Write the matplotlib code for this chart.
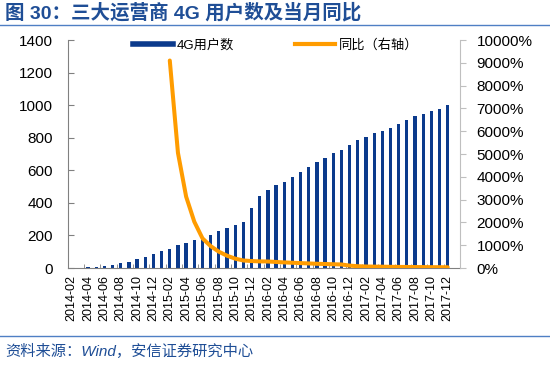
import numpy as np
import pandas as pd
import matplotlib
matplotlib.use("Agg")
import matplotlib.pyplot as plt
from matplotlib.lines import Line2D
from matplotlib.ticker import FuncFormatter, MultipleLocator

plt.rcParams["font.family"] = ["Liberation Sans", "Noto Sans CJK SC", "DejaVu Sans"]

# data
months = list(pd.period_range("2014-02", "2017-12", freq="M").strftime("%Y-%m"))
users = [2, 3, 5, 8, 12, 16, 28, 38, 53, 70, 88, 105,
         119, 139, 154, 170, 186, 205, 227, 248, 264, 285, 371, 444,
         482, 512, 530, 559, 590, 621, 652, 676, 704, 725, 757, 786,
         802, 827, 839, 860, 882, 907, 931, 948, 964, 979, 1003]
yoy_start = "2015-02"
yoy = [9100, 5050, 3130, 2030, 1300, 960, 715, 540, 410, 330,
       305, 290, 285, 265, 245, 230, 215, 200, 185, 175,
       165, 155, 105, 78, 66, 60, 57, 52, 48, 45,
       42, 40, 36, 35, 33]

title = "图 30：三大运营商 4G 用户数及当月同比"
source = "资料来源：Wind，安信证券研究中心"
bar_label = "4G用户数"
line_label = "同比（右轴）"

navy = "#0b3a8c"
orange = "#ff9c00"
blue_txt = "#1f4e96"

fig = plt.figure(figsize=(5.5, 3.65), dpi=100)
ax = fig.add_axes([68 / 550, 1 - 268 / 365, 392 / 550, 228 / 365])

x = np.arange(len(months))
ax.bar(x, users, width=0.4, color=navy, zorder=2)
ax.set_xlim(-0.45, len(months) - 0.4)
ax.set_ylim(0, 1400)
ax.yaxis.set_major_locator(MultipleLocator(200))
ax.set_xticks(x[::2])
ax.set_xticklabels(months[::2], rotation=90, fontsize=9)
ax.set_xticks(np.arange(-0.5, len(months), 2) + 2, minor=True)
ax.tick_params(axis="x", which="major", length=0, pad=5)
ax.tick_params(axis="x", which="minor", direction="in", length=3, color="#808080")
ax.tick_params(axis="y", direction="in", length=4, color="#808080", labelsize=11, pad=11)
for s in ["top", "right"]:
    ax.spines[s].set_visible(False)
ax.spines["left"].set_color("#808080")
ax.spines["bottom"].set_color("#808080")

ax2 = ax.twinx()
i0 = months.index(yoy_start)
ax2.plot(x[i0:i0 + len(yoy)], yoy, color=orange, lw=2.9, solid_capstyle="round")
ax2.set_ylim(0, 10000)
ax2.yaxis.set_major_locator(MultipleLocator(1000))
ax2.yaxis.set_major_formatter(FuncFormatter(lambda v, p: "%d%%" % v))
ax2.tick_params(axis="y", direction="out", length=4, color="#bfbfbf", labelsize=11, pad=8)
for s in ["top", "left", "bottom"]:
    ax2.spines[s].set_visible(False)
ax2.spines["right"].set_color("#bfbfbf")

handles = [Line2D([], [], color=navy, lw=4), Line2D([], [], color=orange, lw=3)]
ax2.legend(handles, [bar_label, line_label], loc="center", bbox_to_anchor=(0.53, 0.978),
           ncol=2, frameon=False, fontsize=9.5, handlelength=3.0, columnspacing=4.6,
           handletextpad=0.3)

fig.text(5 / 550, 1 - 13 / 365, title, color=blue_txt, fontsize=14, fontweight="bold", va="center")
fig.add_artist(Line2D([0, 1], [1 - 25 / 365] * 2, color="#4f7fc4", lw=1))
fig.add_artist(Line2D([0, 1], [1 - 336 / 365] * 2, color="#4f7fc4", lw=1))
fig.text(5 / 550, 1 - 351 / 365, source, color=blue_txt, fontsize=11, style="italic", va="center")

fig.savefig("out.png", dpi=100)
